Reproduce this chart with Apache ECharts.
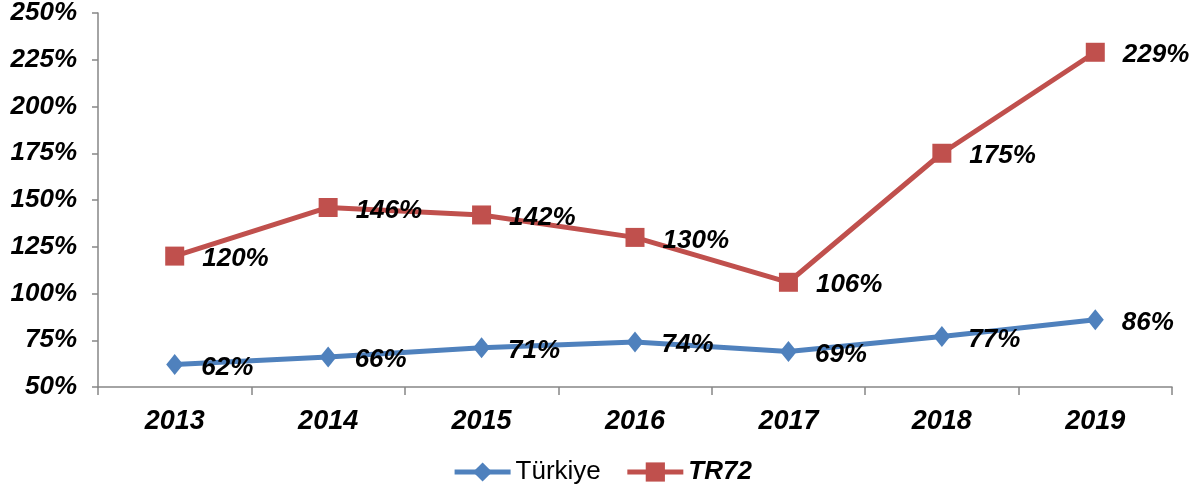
<!DOCTYPE html>
<html>
<head>
<meta charset="utf-8">
<script src="https://cdn.jsdelivr.net/npm/echarts@6/dist/echarts.min.js"></script>
<style>
  html, body { margin: 0; padding: 0; background: #fff; }
  #chart { width: 1204px; height: 494px; }
</style>
</head>
<body>
<div id="chart"></div>
<script>
const years = ['2013', '2014', '2015', '2016', '2017', '2018', '2019']
const turkiye = [62, 66, 71, 74, 69, 77, 86]
const tr72 = [120, 146, 142, 130, 106, 175, 229]

const font = '"Liberation Sans", Arial, sans-serif'
const axisColor = '#868686'

const chart = echarts.init(document.getElementById('chart'))

const labelStyle = {
  show: true,
  position: 'right',
  distance: 18,
  offset: [0, 3],
  formatter: '{c}%',
  color: '#000',
  fontFamily: font,
  fontSize: 26,
  fontWeight: 'bold',
  fontStyle: 'italic',
}

chart.setOption({
  animation: false,
  grid: { left: 98, right: 32, top: 12, bottom: 107 },
  legend: {
    bottom: 4,
    left: 'center',
    itemWidth: 56,
    itemHeight: 24,
    itemGap: 24,
    lineStyle: { width: 5 },
    textStyle: { fontFamily: font, fontSize: 26, color: '#000' },
    data: [
      { name: 'Türkiye' },
      { name: 'TR72', textStyle: { fontWeight: 'bold', fontStyle: 'italic' } },
    ],
  },
  xAxis: {
    type: 'category',
    data: years,
    boundaryGap: true,
    axisLine: { lineStyle: { color: axisColor, width: 1.5 } },
    axisTick: { show: true, length: 8, lineStyle: { color: axisColor, width: 1.5 } },
    axisLabel: {
      color: '#000', fontFamily: font, fontSize: 27,
      fontWeight: 'bold', fontStyle: 'italic', margin: 21,
    },
  },
  yAxis: {
    type: 'value',
    min: 50,
    max: 250,
    interval: 25,
    splitLine: { show: false },
    axisLine: { show: true, lineStyle: { color: axisColor, width: 1.5 } },
    axisTick: { show: true, length: 6, lineStyle: { color: axisColor, width: 1.5 } },
    axisLabel: {
      formatter: '{value}%',
      color: '#000', fontFamily: font, fontSize: 26,
      fontWeight: 'bold', fontStyle: 'italic', margin: 21,
    },
  },
  series: [
    {
      name: 'Türkiye',
      type: 'line',
      data: turkiye,
      symbol: 'diamond',
      symbolSize: [17, 21],
      lineStyle: { color: '#4F81BD', width: 5 },
      itemStyle: { color: '#4F81BD' },
      label: labelStyle,
    },
    {
      name: 'TR72',
      type: 'line',
      data: tr72,
      symbol: 'rect',
      symbolSize: 19,
      lineStyle: { color: '#C0504D', width: 5 },
      itemStyle: { color: '#C0504D' },
      label: labelStyle,
    },
  ],
})
</script>
</body>
</html>
